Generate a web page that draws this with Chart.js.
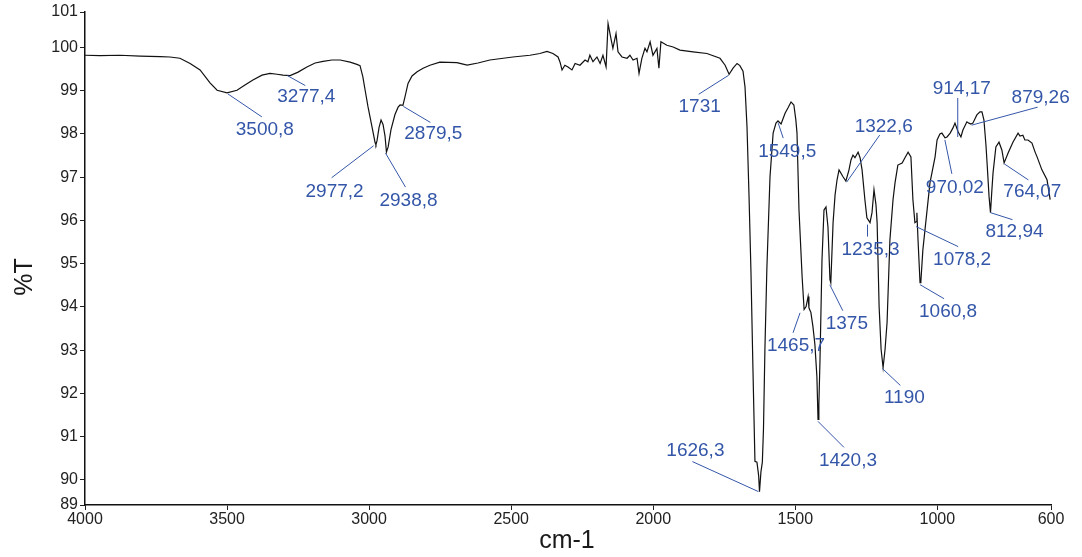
<!DOCTYPE html>
<html>
<head>
<meta charset="utf-8">
<script src="https://cdn.jsdelivr.net/npm/chart.js@4.4.1/dist/chart.umd.min.js"></script>
<style>
  html, body { margin: 0; padding: 0; background: #fff; }
  #caja { width: 1082px; height: 557px; }
</style>
</head>
<body>
<div id="caja"><canvas id="espectro" width="1082" height="557"></canvas></div>
<script>
// Espectro IR: numero de onda (cm-1) y transmitancia (%T)
const numeroOnda = [
  4000, 3947, 3877, 3806, 3736, 3701, 3666, 3630, 3595, 3560, 3535, 3500, 3465, 3437, 3409, 3377,
  3349, 3324, 3303, 3278, 3250, 3219, 3190, 3162, 3131, 3102, 3067, 3043, 3032, 3022, 3014, 3004,
  2990, 2979, 2976, 2972, 2965, 2958, 2951, 2944, 2939, 2933, 2923, 2909, 2898, 2891, 2881, 2874,
  2863, 2849, 2831, 2810, 2786, 2751, 2691, 2655, 2617, 2575, 2494, 2434, 2399, 2374, 2353, 2335,
  2328, 2321, 2311, 2300, 2286, 2275, 2258, 2240, 2230, 2223, 2212, 2198, 2187, 2177, 2166, 2159,
  2149, 2142, 2131, 2124, 2110, 2092, 2082, 2071, 2057, 2050, 2040, 2029, 2022, 2011, 2001, 1987,
  1980, 1973, 1952, 1930, 1906, 1860, 1811, 1765, 1747, 1733, 1719, 1705, 1695, 1684, 1677, 1670,
  1663, 1656, 1649, 1642, 1635, 1629, 1626, 1621, 1616, 1612, 1607, 1600, 1589, 1578, 1568, 1561,
  1550, 1536, 1526, 1515, 1505, 1498, 1494, 1487, 1476, 1469, 1462, 1455, 1452, 1445, 1438, 1431,
  1424, 1420, 1417, 1413, 1406, 1399, 1392, 1385, 1378, 1375, 1367, 1360, 1353, 1346, 1332, 1322,
  1311, 1304, 1297, 1290, 1279, 1272, 1265, 1255, 1248, 1237, 1230, 1223, 1216, 1212, 1205, 1198,
  1191, 1184, 1177, 1167, 1156, 1149, 1139, 1124, 1114, 1103, 1093, 1086, 1079, 1075, 1072, 1068,
  1061, 1058, 1051, 1036, 1026, 1008, 1001, 991, 984, 973, 966, 955, 945, 938, 927, 917,
  910, 896, 889, 882, 875, 861, 850, 843, 836, 829, 825, 818, 813, 808, 804, 794,
  783, 773, 765, 751, 734, 716, 709, 699, 692, 681, 667, 656, 649, 632, 614, 603
];
const transmitancia = [
  99.82, 99.81, 99.82, 99.80, 99.79, 99.78, 99.75, 99.63, 99.48, 99.18, 99.01, 98.95, 99.01, 99.13, 99.25, 99.36,
  99.40, 99.38, 99.36, 99.35, 99.43, 99.55, 99.64, 99.68, 99.71, 99.71, 99.66, 99.61, 99.58, 99.32, 99.01, 98.63,
  98.17, 97.80, 97.75, 97.85, 98.15, 98.32, 98.22, 97.95, 97.58, 97.70, 98.10, 98.45, 98.62, 98.67, 98.66, 98.85,
  99.17, 99.34, 99.44, 99.52, 99.59, 99.66, 99.65, 99.59, 99.64, 99.71, 99.78, 99.82, 99.86, 99.91, 99.86, 99.78,
  99.66, 99.48, 99.59, 99.55, 99.48, 99.63, 99.59, 99.71, 99.67, 99.82, 99.67, 99.78, 99.63, 99.82, 99.55, 100.55,
  100.21, 99.98, 100.32, 99.90, 99.78, 99.75, 99.82, 99.71, 99.75, 99.40, 99.75, 99.98, 99.90, 100.13, 99.82, 99.98,
  99.52, 100.13, 100.05, 100.01, 99.94, 99.90, 99.86, 99.75, 99.59, 99.38, 99.52, 99.63, 99.58, 99.45, 99.09, 98.17,
  96.60, 94.80, 92.55, 90.43, 90.41, 90.10, 89.73, 90.18, 90.41, 91.17, 93.00, 94.90, 97.01, 98.02, 98.25, 98.30,
  98.23, 98.48, 98.60, 98.74, 98.67, 98.32, 98.02, 96.24, 94.70, 93.94, 94.01, 94.24, 93.98, 93.87, 93.55, 93.13,
  92.39, 91.40, 91.75, 92.79, 95.09, 96.24, 96.31, 95.85, 94.63, 94.56, 95.95, 96.59, 96.94, 97.17, 97.01, 96.91,
  97.17, 97.40, 97.51, 97.45, 97.58, 97.45, 97.17, 96.48, 96.06, 95.95, 96.18, 96.71, 96.36, 95.95, 94.01, 93.02,
  92.60, 93.02, 93.64, 95.55, 96.48, 96.87, 97.28, 97.33, 97.45, 97.58, 97.47, 96.48, 95.95, 95.97, 96.18, 95.55,
  94.56, 94.59, 95.32, 96.25, 96.87, 97.47, 97.86, 98.00, 98.02, 97.91, 97.93, 98.02, 98.14, 98.25, 98.05, 97.93,
  98.09, 98.28, 98.25, 98.23, 98.25, 98.44, 98.51, 98.51, 98.32, 97.75, 97.33, 96.55, 96.18, 96.71, 97.10, 97.70,
  97.81, 97.63, 97.33, 97.56, 97.81, 98.02, 97.95, 97.97, 97.86, 97.86, 97.79, 97.58, 97.47, 97.17, 96.94, 96.48
];

// Picos marcados
const picosTexto = ['3500,8', '3277,4', '2977,2', '2938,8', '2879,5', '1731', '1549,5', '1322,6', '1235,3', '1078,2', '970,02',
  '914,17', '879,26', '812,94', '764,07', '1465,7', '1375', '1060,8', '1190', '1420,3', '1626,3'];
const picosOnda = [3500.8, 3277.4, 2977.2, 2938.8, 2879.5, 1731, 1549.5, 1322.6, 1235.3, 1078.2, 970.02,
  914.17, 879.26, 812.94, 764.07, 1465.7, 1375, 1060.8, 1190, 1420.3, 1626.3];
const picosT = [98.95, 99.35, 97.75, 97.58, 98.66, 99.38, 98.25, 96.91, 95.95, 95.95, 97.91,
  97.93, 98.25, 96.18, 97.33, 93.98, 94.56, 94.56, 92.60, 91.40, 89.73];

// Ticks
const ticksX = [4000, 3500, 3000, 2500, 2000, 1500, 1000, 600];
const ticksY = [89.42, 90, 91, 92, 93, 94, 95, 96, 97, 98, 99, 100, 100.82];

// Posicion de cada etiqueta respecto al pico (px): linea x1,y1,x2,y2 y texto x,y(base)
const posEtiquetas = [
  [1, 1, 35, 24, 38, 42], [-3, 0, 15, 10, 16, 26], [-2, 1, -44, 33, -41, 52], [-1, 1, 19, 35, 22, 54],
  [0, 1, 27, 17, 30, 34], [-1, 1, -31, 20, -30, 38], [-3, 0, 2, 15, 6, 34], [1, 1, 34, -46, 38, -49],
  [-3, 2, -3, 14, 0, 32], [1, 4, 43, 24, 47, 42], [-1, 2, 6, 36, 9, 55], [-4, 0, -4, -39, 0, -43],
  [0, 2, 66, -16, 69, -20], [0, 0, 22, 7, 24, 24], [0, 1, 24, 17, 28, 34], [-5, 5, -12, 25, -9, 43],
  [-1, 2, 12, 28, 16, 46], [0, 2, 24, 16, 28, 34], [-1, 1, 17, 18, 21, 36], [0, 2, 26, 28, 30, 47],
  [-1, 0, -67, -30, -64, -36]
];

const fuente = "'Liberation Sans', Arial, sans-serif";
const azul = '#3456a8';

const etiquetasPicos = {
  id: 'etiquetasPicos',
  afterDatasetsDraw(chart) {
    const ctx = chart.ctx;
    const x = chart.scales.x;
    const y = chart.scales.y;
    ctx.save();
    ctx.strokeStyle = azul;
    ctx.fillStyle = azul;
    ctx.lineWidth = 1;
    ctx.font = '19px ' + fuente;
    ctx.textAlign = 'center';
    ctx.textBaseline = 'alphabetic';
    picosTexto.forEach((txt, i) => {
      const px = x.getPixelForValue(picosOnda[i]);
      const py = y.getPixelForValue(picosT[i]);
      const p = posEtiquetas[i];
      ctx.beginPath();
      ctx.moveTo(px + p[0], py + p[1]);
      ctx.lineTo(px + p[2], py + p[3]);
      ctx.stroke();
      ctx.fillText(txt, px + p[4], py + p[5]);
    });
    ctx.restore();
  }
};

// Titulos de los ejes
const titulosEjes = {
  id: 'titulosEjes',
  afterDraw(chart) {
    const ctx = chart.ctx;
    ctx.save();
    ctx.fillStyle = '#1a1a1a';
    ctx.font = '25px ' + fuente;
    ctx.textAlign = 'center';
    ctx.textBaseline = 'alphabetic';
    ctx.fillText('cm-1', 567, 548);
    ctx.translate(32, 277);
    ctx.rotate(-Math.PI / 2);
    ctx.fillText('%T', 0, 0);
    ctx.restore();
  }
};

const ctx = document.getElementById('espectro');
new Chart(ctx, {
  type: 'scatter',
  data: {
    datasets: [{
      label: '%T',
      data: numeroOnda.map((w, i) => ({ x: w, y: transmitancia[i] })),
      showLine: true,
      borderColor: '#111',
      borderWidth: 1.2,
      pointRadius: 0,
      tension: 0
    }]
  },
  options: {
    responsive: false,
    devicePixelRatio: 1,
    animation: false,
    layout: { padding: { left: 0, right: 31, top: 12, bottom: 0 } },
    plugins: {
      legend: { display: false },
      tooltip: { enabled: false }
    },
    scales: {
      x: {
        type: 'linear',
        reverse: true,
        min: 600,
        max: 4000,
        afterBuildTicks: (s) => { s.ticks = ticksX.map(v => ({ value: v })); },
        afterFit: (s) => { s.height = 52; },
        grid: { drawOnChartArea: false, drawTicks: true, tickLength: 5, color: '#222' },
        border: { display: true, color: '#111', width: 1.5 },
        ticks: {
          color: '#222', font: { family: fuente, size: 16 }, padding: 0, maxRotation: 0,
          callback: (v) => String(v)
        }
      },
      y: {
        type: 'linear',
        min: 89.42,
        max: 100.82,
        afterBuildTicks: (s) => { s.ticks = ticksY.map(v => ({ value: v })); },
        afterFit: (s) => { s.width = 85; },
        grid: { drawOnChartArea: false, drawTicks: true, tickLength: 5, color: '#222' },
        border: { display: true, color: '#111', width: 1.5 },
        ticks: {
          color: '#222', font: { family: fuente, size: 16 }, padding: 2,
          callback: (v) => String(Math.round(v))
        }
      }
    }
  },
  plugins: [etiquetasPicos, titulosEjes]
});
</script>
</body>
</html>
